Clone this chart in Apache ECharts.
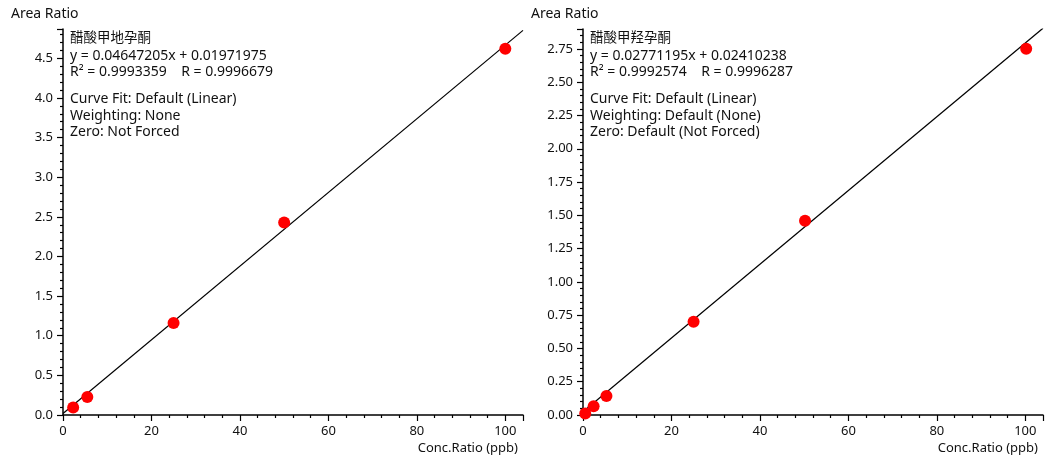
<!DOCTYPE html>
<html>
<head>
<meta charset="utf-8">
<style>html,body{margin:0;padding:0;background:#fff}#c{width:1048px;height:461px}</style>
<script src="https://cdn.jsdelivr.net/npm/echarts@6/dist/echarts.min.js"></script>
</head>
<body>
<div id="c"></div>
<script>
// ---- data ----
const leftName = '醋酸甲地孕酮';
const leftX = [2.3, 5.5, 25, 50, 100];
const leftY = [0.096, 0.227, 1.16, 2.43, 4.62];
const leftSlope = 0.04647205, leftIntercept = 0.01971975;
const leftInfo = ['y = 0.04647205x + 0.01971975', 'R² = 0.9993359    R = 0.9996679', '', 'Curve Fit: Default (Linear)', 'Weighting: None', 'Zero: Not Forced'];

const rightName = '醋酸甲羟孕酮';
const rightX = [0.5, 2.4, 5.3, 25, 50.2, 100.2];
const rightY = [0.012, 0.065, 0.143, 0.70, 1.46, 2.752];
const rightSlope = 0.02771195, rightIntercept = 0.02410238;
const rightInfo = ['y = 0.02771195x + 0.02410238', 'R² = 0.9992574    R = 0.9996287', '', 'Curve Fit: Default (Linear)', 'Weighting: Default (None)', 'Zero: Default (Not Forced)'];

const xMin = 0, xMax = 104, xInterval = 20;
const leftYMax = 4.87, leftYInterval = 0.5;
const rightYMax = 2.9, rightYInterval = 0.25;

// ---- chart ----
const FONT = '"Noto Sans", "Noto Sans CJK SC", sans-serif';
const TXT = '#111';
const chart = echarts.init(document.getElementById('c'), null, {renderer: 'canvas'});

function xAxis(gi) {
  return {
    gridIndex: gi, type: 'value', min: xMin, max: xMax, interval: xInterval,
    axisLine: {onZero: false, lineStyle: {color: '#000', width: 1.5}},
    axisTick: {length: 6, lineStyle: {color: '#000', width: 1.2}},
    minorTick: {show: true, splitNumber: 5, length: 3, lineStyle: {color: '#000', width: 1.2}},
    splitLine: {show: false},
    axisLabel: {color: TXT, fontSize: 13, fontFamily: FONT, margin: 10, showMaxLabel: false}
  };
}
function yAxis(gi, max, interval, dec) {
  return {
    gridIndex: gi, type: 'value', min: 0, max: max, interval: interval,
    axisLine: {show: true, onZero: false, lineStyle: {color: '#000', width: 1.5}},
    axisTick: {show: true, length: 6, lineStyle: {color: '#000', width: 1.2}},
    minorTick: {show: true, splitNumber: 5, length: 3, lineStyle: {color: '#000', width: 1.2}},
    splitLine: {show: false},
    axisLabel: {color: TXT, fontSize: 13, fontFamily: FONT, margin: 10, showMaxLabel: false,
      formatter: v => v.toFixed(dec)}
  };
}
function fitLine(slope, intercept) {
  return [[xMin, intercept + slope * xMin], [xMax, intercept + slope * xMax]];
}
function infoText(left, name, lines) {
  return [
    {type: 'text', left: left, top: 31, style: {text: name, font: '13.5px ' + FONT, fill: TXT}},
    {type: 'text', left: left, top: 48, style: {text: lines.slice(0, 2).join('\n'), font: '14px ' + FONT, fill: TXT, lineHeight: 16}},
    {type: 'text', left: left, top: 91, style: {text: lines.slice(3).join('\n'), font: '14px ' + FONT, fill: TXT, lineHeight: 16.5}}
  ];
}

chart.setOption({
  animation: false,
  grid: [
    {left: 63, top: 29, width: 460, height: 386},
    {left: 583, top: 29, width: 460, height: 386}
  ],
  xAxis: [xAxis(0), xAxis(1)],
  yAxis: [yAxis(0, leftYMax, leftYInterval, 1), yAxis(1, rightYMax, rightYInterval, 2)],
  series: [
    {type: 'line', xAxisIndex: 0, yAxisIndex: 0, data: fitLine(leftSlope, leftIntercept), symbol: 'none',
      lineStyle: {color: '#000', width: 1.2}, z: 2},
    {type: 'scatter', xAxisIndex: 0, yAxisIndex: 0, data: leftX.map((x, i) => [x, leftY[i]]), symbolSize: 12,
      itemStyle: {color: '#ff0000', opacity: 1}, z: 3},
    {type: 'line', xAxisIndex: 1, yAxisIndex: 1, data: fitLine(rightSlope, rightIntercept), symbol: 'none',
      lineStyle: {color: '#000', width: 1.2}, z: 2},
    {type: 'scatter', xAxisIndex: 1, yAxisIndex: 1, data: rightX.map((x, i) => [x, rightY[i]]), symbolSize: 12,
      itemStyle: {color: '#ff0000', opacity: 1}, z: 3}
  ],
  graphic: [
    {type: 'text', left: 11, top: 7, style: {text: 'Area Ratio', font: '14px ' + FONT, fill: TXT}},
    {type: 'text', left: 531, top: 7, style: {text: 'Area Ratio', font: '14px ' + FONT, fill: TXT}},
    {type: 'text', right: 1048 - 518, top: 442, style: {text: 'Conc.Ratio (ppb)', font: '13px ' + FONT, fill: TXT}},
    {type: 'text', right: 1048 - 1038, top: 442, style: {text: 'Conc.Ratio (ppb)', font: '13px ' + FONT, fill: TXT}},
    ...infoText(70, leftName, leftInfo),
    ...infoText(590, rightName, rightInfo)
  ]
});
</script>
</body>
</html>
